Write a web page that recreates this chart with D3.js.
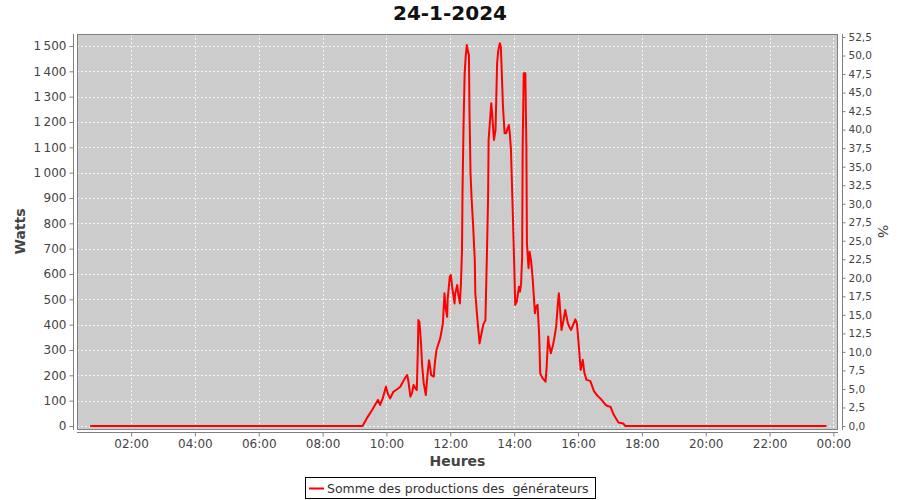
<!DOCTYPE html>
<html><head><meta charset="utf-8">
<script src="https://cdn.jsdelivr.net/npm/d3@7"></script>
<style>body{margin:0;background:#fff;}svg{display:block;font-family:"DejaVu Sans",sans-serif;}</style>
</head><body><div id="chart"></div>
<script>
const title = "24-1-2024";
const seriesName = "Somme des productions des  générateurs";
const xLabel = "Heures", yLabel = "Watts", y2Label = "%";
// time of day in minutes
const minutes = [43,555,563,573,584,588,593,599,603,607,613,620,626,631,635,639,641,645,648,651,654,657,659,660,662,665,667,670,674,677,680,682,684,689,691,694,697,701,704,706,708,709,711,714,715,717,719,721,724,728,729,733,735,738,740,742,743,745,747,749,751,753,755,756,758,760,763,766,767,771,775,780,782,786,789,791,792,797,799,802,805,808,810,813,815,819,822,825,827,830,832,834,838,840,842,845,849,851,853,855,856,858,861,863,864,867,869,872,875,879,881,884,887,889,893,899,901,904,905,909,913,916,919,922,924,925,929,933,936,941,944,947,951,955,958,961,965,969,972,976,983,990,997,1002,1012,1017,1021,1027,1036,1045,1049,1427];
const watts = [0,0,30,63,103,83,109,155,125,109,135,145,155,175,190,201,180,116,130,162,150,142,300,418,410,326,240,169,122,200,260,235,201,195,250,300,320,346,380,405,480,524,470,431,500,544,590,596,540,484,520,557,520,484,563,695,932,1200,1392,1460,1504,1480,1465,1250,998,900,787,655,524,420,326,379,400,418,695,900,1129,1274,1220,1129,1169,1432,1480,1511,1497,1261,1156,1156,1170,1188,1150,1090,800,650,478,490,550,530,560,668,1100,1392,1392,1100,721,623,688,650,576,445,470,478,360,208,190,175,230,353,330,287,320,353,392,480,524,500,379,420,458,405,390,379,400,421,405,330,221,261,210,182,178,138,118,109,83,78,76,45,14,10,0,0];
const xTicks = [120,240,360,480,600,720,840,960,1080,1200,1320,1440];
const yTicks = d3.range(0, 1501, 100);
const y2Ticks = d3.range(0, 52.51, 2.5);

const W = 900, H = 500;
const plot = {l: 77, r: 838, t: 34, b: 429};
const svg = d3.select("#chart").append("svg").attr("width", W).attr("height", H);

const x = d3.scaleLinear().domain([0, 1440]).range([67.2, 833.4]);
const y = d3.scaleLinear().domain([0, 1500]).range([426, 46]);
const y2 = d3.scaleLinear().domain([0, 52.5]).range([426, 37]);

// background
svg.append("rect").attr("x", plot.l).attr("y", plot.t).attr("width", plot.r - plot.l).attr("height", plot.b - plot.t)
  .attr("fill", "#cccccc");

// gridlines
const grid = svg.append("g").attr("stroke", "#ffffff").attr("stroke-width", 0.8).attr("stroke-dasharray", "2,2");
xTicks.forEach(t => {
  const px = Math.round(x(t)) + 0.5;
  if (px > plot.l && px < plot.r) grid.append("line").attr("x1", px).attr("x2", px).attr("y1", plot.t).attr("y2", plot.b);
});
yTicks.forEach(t => {
  const py = Math.round(y(t)) + 0.5;
  grid.append("line").attr("x1", plot.l).attr("x2", plot.r).attr("y1", py).attr("y2", py);
});

// data line
const data = minutes.map((m, i) => ({m, w: watts[i]}));
svg.append("path").datum(data)
  .attr("fill", "none").attr("stroke", "#ff0000").attr("stroke-width", 2).attr("stroke-linejoin", "round")
  .attr("d", d3.line().x(d => x(d.m)).y(d => y(d.w)));

// plot border
svg.append("rect").attr("x", plot.l + 0.5).attr("y", plot.t + 0.5).attr("width", plot.r - plot.l - 1).attr("height", plot.b - plot.t)
  .attr("fill", "none").attr("stroke", "#808080");

const fmtTime = m => { const h = Math.round(m / 60) % 24; return (h < 10 ? "0" : "") + h + ":00"; };
const fmtW = d => d >= 1000 ? Math.floor(d / 1000) + "\u202F" + String(d % 1000).padStart(3, "0") : String(d);
const fmtP = d => d.toFixed(1).replace(".", ",");

function styleAxis(g) {
  g.select(".domain").attr("stroke", "#808080");
  g.selectAll(".tick line").attr("stroke", "#808080");
  g.selectAll(".tick text").attr("fill", "#444").attr("font-size", 12).attr("font-family", "DejaVu Sans");
}

// left axis
const gy = svg.append("g").attr("transform", "translate(73.5,0)")
  .call(d3.axisLeft(y).tickValues(yTicks).tickFormat(fmtW).tickSize(4).tickSizeOuter(0).tickPadding(3));
gy.select(".domain").attr("d", `M0,${plot.t}V${plot.b + 1}`);
styleAxis(gy);

// right axis
const gy2 = svg.append("g").attr("transform", "translate(842.5,0)")
  .call(d3.axisRight(y2).tickValues(y2Ticks).tickFormat(fmtP).tickSize(3).tickSizeOuter(0).tickPadding(3));
gy2.select(".domain").attr("d", `M0,${plot.t}V${plot.b + 1}`);
styleAxis(gy2);
gy2.selectAll(".tick text").attr("font-size", 10.5);

// bottom axis
const gx = svg.append("g").attr("transform", "translate(0,432.5)")
  .call(d3.axisBottom(x).tickValues(xTicks).tickFormat(fmtTime).tickSize(4).tickSizeOuter(0).tickPadding(3));
gx.select(".domain").attr("d", `M${plot.l},0H${plot.r}`);
styleAxis(gx);

// titles
svg.append("text").attr("x", 450).attr("y", 20).attr("text-anchor", "middle")
  .attr("font-size", 20).attr("font-weight", "bold").attr("fill", "#111").text(title);
svg.append("text").attr("x", (plot.l + plot.r) / 2).attr("y", 466).attr("text-anchor", "middle")
  .attr("font-size", 14).attr("font-weight", "bold").attr("fill", "#444").text(xLabel);
svg.append("text").attr("transform", `translate(25,${(plot.t + plot.b) / 2}) rotate(-90)`).attr("text-anchor", "middle")
  .attr("font-size", 14).attr("font-weight", "bold").attr("fill", "#444").text(yLabel);
svg.append("text").attr("transform", `translate(878,${(plot.t + plot.b) / 2}) rotate(90)`).attr("text-anchor", "middle")
  .attr("font-size", 14).attr("fill", "#444").text(y2Label);

// legend
const lg = svg.append("g");
lg.append("rect").attr("x", 305.5).attr("y", 477.5).attr("width", 290).attr("height", 21)
  .attr("fill", "#fff").attr("stroke", "#000");
lg.append("line").attr("x1", 309).attr("x2", 324).attr("y1", 488.5).attr("y2", 488.5)
  .attr("stroke", "#ff0000").attr("stroke-width", 2);
lg.append("text").attr("x", 327).attr("y", 492.5).attr("font-size", 12.5).attr("fill", "#333")
  .attr("xml:space", "preserve").style("white-space", "pre").text(seriesName);
</script></body></html>
